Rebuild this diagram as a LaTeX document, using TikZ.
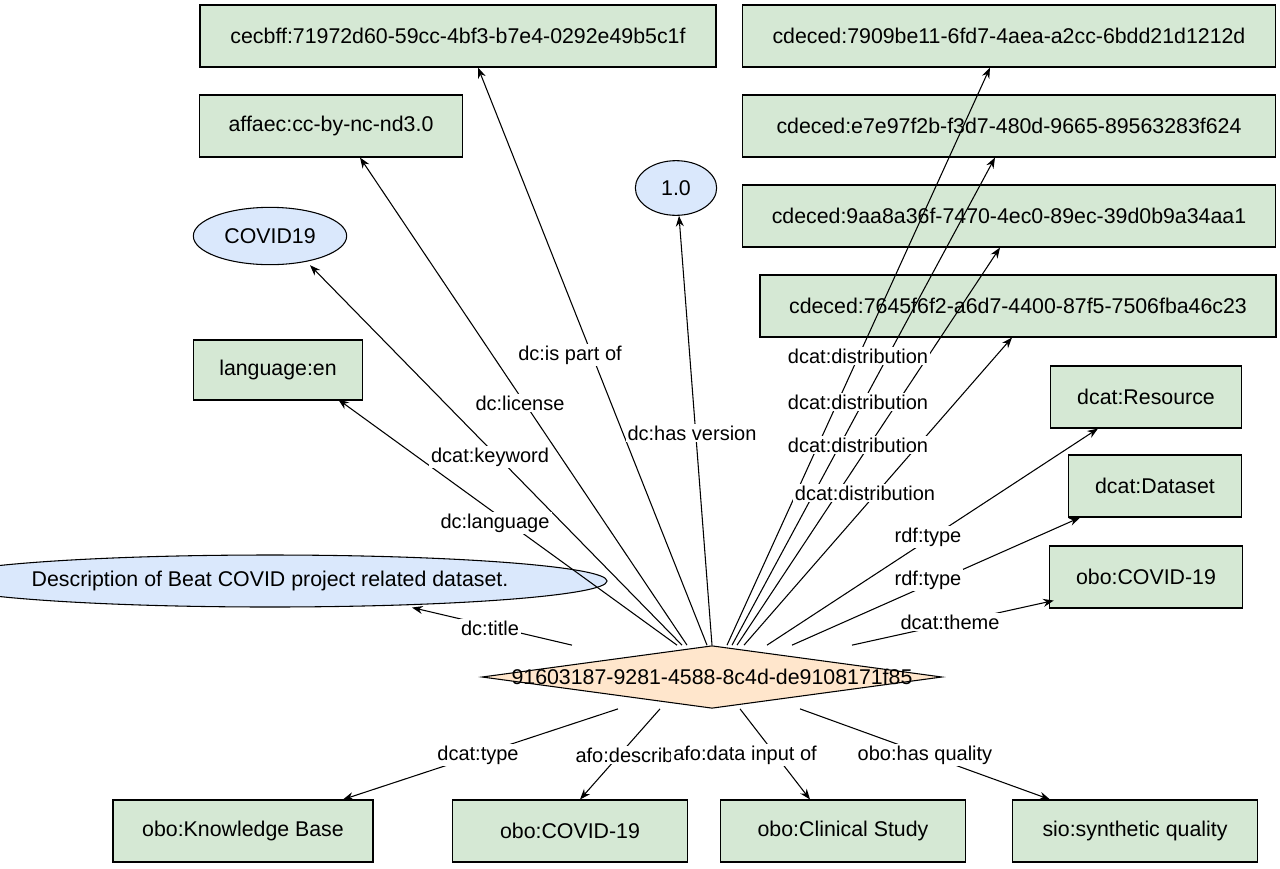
\documentclass[tikz,border=0pt]{standalone}
\usepackage{fontspec}
\setmainfont{Liberation Sans}
\usetikzlibrary{shapes.geometric,arrows.meta,calc}
\definecolor{gbox}{HTML}{D5E8D4}
\definecolor{bell}{HTML}{DAE8FC}
\definecolor{odia}{HTML}{FFE6CC}
\begin{document}
\begin{tikzpicture}[x=0.75pt,y=-0.75pt,
  every node/.style={font=\fontsize{16}{18}\selectfont},
  box/.style={draw,thick,fill=gbox,minimum height=46.5pt,inner sep=0pt},
  ell/.style={draw,thick,fill=bell,ellipse,inner sep=0pt},
  arr/.style={-{Stealth[length=8pt,width=6pt]},thick},
  lab/.style={fill=white,inner sep=1.5pt,font=\fontsize{15}{17}\selectfont}]
\useasboundingbox (0,0) rectangle (1280,868);
\node[draw,thick,fill=odia,diamond,aspect=7.3,minimum width=345pt,minimum height=47pt,inner sep=0pt] (d) at (712,677) {};
\node at (712,677) (dt) {91603187-9281-4588-8c4d-de9108171f85};
\node[box,minimum width=387pt] (a1) at (458,36) {cecbff:71972d60-59cc-4bf3-b7e4-0292e49b5c1f};
\node[box,minimum width=197pt] (a2) at (331,126) {affaec:cc-by-nc-nd3.0};
\node[ell,minimum width=115pt,minimum height=43pt] (a3) at (270,236) {COVID19};
\node[box,minimum width=127pt,minimum height=45pt] (a4) at (278,370) {language:en};
\node[ell,minimum width=400pt,minimum height=39pt] (a5) at (270,581) {Description of Beat COVID project related dataset.};
\node[ell,minimum width=61pt,minimum height=41pt] (a6) at (676,188) {1.0};
\node[box,minimum width=400pt] (b1) at (1009,36) {cdeced:7909be11-6fd7-4aea-a2cc-6bdd21d1212d};
\node[box,minimum width=400pt] (b2) at (1009,126) {cdeced:e7e97f2b-f3d7-480d-9665-89563283f624};
\node[box,minimum width=400pt] (b3) at (1009,216) {cdeced:9aa8a36f-7470-4ec0-89ec-39d0b9a34aa1};
\node[box,minimum width=387pt] (b4) at (1018,306) {cdeced:7645f6f2-a6d7-4400-87f5-7506fba46c23};
\node[box,minimum width=143pt] (c1) at (1146,397) {dcat:Resource};
\node[box,minimum width=130pt] (c2) at (1155,486) {dcat:Dataset};
\node[box,minimum width=145pt] (c3) at (1146,577) {obo:COVID-19};
\node[box,minimum width=195pt] (e1) at (243,831) {obo:Knowledge Base};
\node[box,minimum width=176pt] (e2) at (570,831) {obo:COVID-19};
\node[box,minimum width=184pt] (e3) at (843,831) {obo:Clinical Study};
\node[box,minimum width=184pt] (e4) at (1135,831) {sio:synthetic quality};
% start points on the diamond
\path (d.north) ++(-5,0) coordinate (s1);
\path (d.north) ++(-25,0) coordinate (s2);
\path (d.north) ++(-30,0) coordinate (s3);
\path (d.north) ++(-35,0) coordinate (s4);
\path (d.north) ++(-140,0) coordinate (s5);
\path (d.north) ++(0,0) coordinate (s6);
\path (d.north) ++(15,0) coordinate (t1);
\path (d.north) ++(20,0) coordinate (t2);
\path (d.north) ++(25,0) coordinate (t3);
\path (d.north) ++(32,0) coordinate (t4);
\path (d.north) ++(55,0) coordinate (t5);
\path (d.north) ++(80,0) coordinate (t6);
\path (d.north) ++(140,0) coordinate (t7);
\path (d.south) ++(-94,0) coordinate (u1);
\path (d.south) ++(-52,0) coordinate (u2);
\path (d.south) ++(28,0) coordinate (u3);
\path (d.south) ++(88,0) coordinate (u4);
% connectors
\draw[arr] (s1) -- ($(a1.south)+(20,0)$);
\draw[arr] (s2) -- ($(a2.south)+(29,0)$);
\draw[arr] (s3) -- ($(a3.south)+(40,0)$);
\draw[arr] (s4) -- ($(a4.north east)+(-25,60)$);
\draw[arr] (s5) -- ($(a5.south)+(142,0)$);
\draw[arr] (s6) -- ($(a6.south)+(3,0)$);
\draw[arr] (t1) -- ($(b1.south)+(-19,0)$);
\draw[arr] (t2) -- ($(b2.south)+(-14,0)$);
\draw[arr] (t3) -- ($(b3.south)+(-9,0)$);
\draw[arr] (t4) -- ($(b4.south)+(-6,0)$);
\draw[arr] (t5) -- ($(c1.south)+(-48,0)$);
\draw[arr] (t6) -- ($(c2.south)+(-75,0)$);
\draw[arr] (t7) -- ($(c3.south west)+(5,-8)$);
\draw[arr] (u1) -- ($(e1.north)+(100,0)$);
\draw[arr] (u2) -- ($(e2.north)+(10,0)$);
\draw[arr] (u3) -- ($(e3.north)+(-33,0)$);
\draw[arr] (u4) -- ($(e4.north)+(-85,0)$);
% labels
\node[lab] (l1) at (490,628) {dc:title};
\node[lab] (l2) at (495,523) {dc:language};
\node[lab] (l3) at (490,457) {dcat:keyword};
\node[lab] (l4) at (520,403) {dc:license};
\node[lab] (l5) at (570,355) {dc:is part of};
\node[lab] (l6) at (692,433) {dc:has version};
\node[lab] (l7) at (858,356) {dcat:distribution};
\node[lab] (l8) at (858,402) {dcat:distribution};
\node[lab] (l9) at (858,445) {dcat:distribution};
\node[lab] (l10) at (865,493) {dcat:distribution};
\node[lab] (l11) at (928,537) {rdf:type};
\node[lab] (l12) at (928,580) {rdf:type};
\node[lab] (l13) at (950,622) {dcat:theme};
\node[lab] (l14) at (478,755) {dcat:type};
\node[lab] (l15) at (635,755) {afo:describes};
\node[lab] (l16) at (745,755) {afo:data input of};
\node[lab] (l17) at (925,755) {obo:has quality};
\end{tikzpicture}
\end{document}
